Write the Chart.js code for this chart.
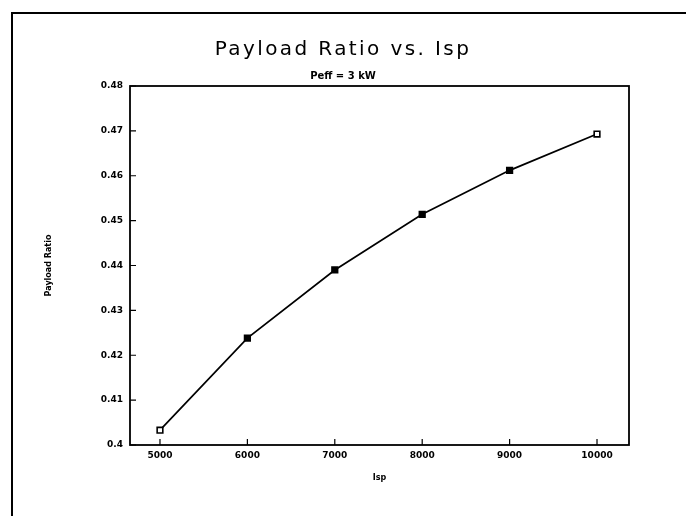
<!DOCTYPE html>
<html><head><meta charset="utf-8">
<script src="https://cdn.jsdelivr.net/npm/chart.js@4.4.1/dist/chart.umd.min.js"></script>
<style>
html,body{margin:0;padding:0;background:#fff;}
#wrap{position:relative;width:686px;height:516px;overflow:hidden;background:#fff;}
#frame{position:absolute;left:11px;top:12px;right:-5px;bottom:-5px;border-top:2px solid #000;border-left:2px solid #000;pointer-events:none;}
canvas{position:absolute;left:0;top:0;}
</style></head><body>
<div id="wrap"><canvas id="c" width="686" height="516"></canvas><div id="frame"></div></div>
<script>
const chartTitle = 'Payload Ratio vs. Isp';
const chartSubtitle = 'Peff = 3 kW';
const xAxisTitle = 'Isp';
const yAxisTitle = 'Payload Ratio';
const ispValues = [5000, 6000, 7000, 8000, 9000, 10000];
const payloadRatio = [0.4033, 0.4238, 0.4390, 0.4514, 0.4612, 0.4693];
const xTickValues = [5000, 6000, 7000, 8000, 9000, 10000];
const yTickValues = [0.40, 0.41, 0.42, 0.43, 0.44, 0.45, 0.46, 0.47, 0.48];
const yTickLabels = ['0.4', '0.41', '0.42', '0.43', '0.44', '0.45', '0.46', '0.47', '0.48'];

const tickFont = {family: 'DejaVu Sans', size: 9, weight: 'bold'};

const framePlugin = {
  id: 'framePlugin',
  beforeDatasetsDraw(chart) {
    const {ctx, chartArea: a, scales} = chart;
    ctx.save();
    ctx.strokeStyle = '#000';
    ctx.lineWidth = 1.8;
    ctx.strokeRect(a.left, a.top, a.right - a.left, a.bottom - a.top);
    ctx.lineWidth = 1.2;
    ctx.beginPath();
    scales.x.ticks.forEach(t => {
      const px = scales.x.getPixelForValue(t.value);
      ctx.moveTo(px, a.bottom);
      ctx.lineTo(px, a.bottom - 6);
    });
    scales.y.ticks.forEach(t => {
      const py = scales.y.getPixelForValue(t.value);
      ctx.moveTo(a.left, py);
      ctx.lineTo(a.left + 6, py);
    });
    ctx.stroke();
    ctx.restore();
  }
};

const chart = new Chart(document.getElementById('c'), {
  type: 'line',
  data: {
    datasets: [{
      data: ispValues.map((x, i) => ({x: x, y: payloadRatio[i]})),
      borderColor: '#000',
      borderWidth: 1.7,
      tension: 0,
      pointStyle: 'rect',
      pointRadius: 4,
      pointBorderWidth: 1.6,
      pointBorderColor: '#000',
      pointBackgroundColor: ispValues.map((x, i) => (i === 0 || i === ispValues.length - 1) ? '#fff' : '#000')
    }]
  },
  options: {
    responsive: false,
    animation: false,
    devicePixelRatio: 1,
    layout: {padding: 0},
    plugins: {
      legend: {display: false},
      tooltip: {enabled: false},
      title: {
        display: true, text: chartTitle, color: '#000',
        font: {family: 'DejaVu Sans', size: 20, weight: 'normal'},
        padding: {top: 38, bottom: 0}
      },
      subtitle: {
        display: true, text: chartSubtitle, color: '#000',
        font: {family: 'DejaVu Sans', size: 10, weight: 'bold'},
        padding: {top: 8, bottom: 4}
      }
    },
    scales: {
      x: {
        type: 'linear', position: 'bottom', min: 4657, max: 10366,
        afterBuildTicks: s => { s.ticks = xTickValues.map(v => ({value: v})); },
        afterFit: s => { s.height = 71; },
        grid: {display: false, drawTicks: false},
        border: {display: false},
        ticks: {color: '#000', font: tickFont, padding: 5, autoSkip: false, maxRotation: 0,
                callback: v => String(v)},
        title: {display: true, text: xAxisTitle, color: '#000',
                font: {family: 'DejaVu Sans', size: 8, weight: 'bold'},
                padding: {top: 0, bottom: 33}}
      },
      y: {
        type: 'linear', position: 'left', min: 0.40, max: 0.48,
        afterBuildTicks: s => { s.ticks = yTickValues.map(v => ({value: v})); },
        afterFit: s => { s.width = 130; },
        grid: {display: false, drawTicks: false},
        border: {display: false},
        ticks: {color: '#000', font: tickFont, padding: 7, autoSkip: false,
                callback: (v, i) => yTickLabels[i]},
        title: {display: true, text: yAxisTitle, color: '#000',
                font: {family: 'DejaVu Sans', size: 8, weight: 'bold'},
                padding: {top: 44, bottom: 0}}
      },
      y2: {
        type: 'linear', position: 'right', display: true,
        afterFit: s => { s.width = 57; },
        grid: {display: false, drawTicks: false},
        border: {display: false},
        ticks: {display: false}
      }
    }
  },
  plugins: [framePlugin]
});

const tb = chart.titleBlock;
if (tb) {
  const origDraw = tb.draw.bind(tb);
  tb.draw = function() {
    const ctx = this.ctx;
    const prev = ctx.letterSpacing;
    if ('letterSpacing' in ctx) ctx.letterSpacing = '2.4px';
    origDraw();
    if ('letterSpacing' in ctx) ctx.letterSpacing = prev || '0px';
  };
  chart.draw();
}
</script>
</body></html>
